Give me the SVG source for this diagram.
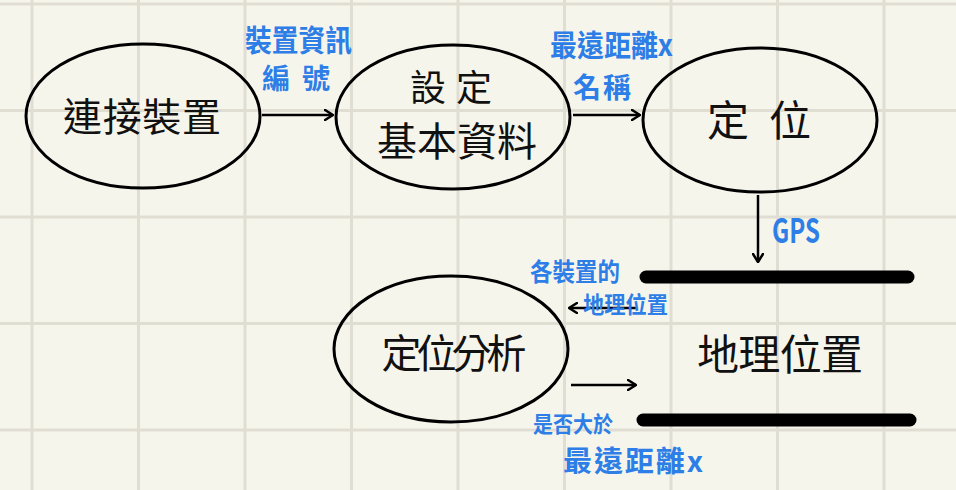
<svg xmlns="http://www.w3.org/2000/svg" width="956" height="490" viewBox="0 0 956 490">
<defs>
<style>
.grid{stroke:#e0ddd3;stroke-width:3}
.node{fill:none;stroke:#000;stroke-width:3}
.lbl{font-family:"Noto Sans CJK TC","Noto Sans CJK SC",sans-serif;fill:#111;text-anchor:middle}
.blue{font-family:"Noto Sans CJK TC","Noto Sans CJK SC",sans-serif;fill:#2d7ee6;font-weight:bold}
.conn{stroke:#000;stroke-width:2.5;fill:none;marker-end:url(#ah)}
.bar{stroke:#000;stroke-width:13;stroke-linecap:round}
</style>
<marker id="ah" viewBox="0 0 10 12" refX="9" refY="6" markerWidth="10" markerHeight="12" markerUnits="userSpaceOnUse" orient="auto">
<path d="M1,1 L9,6 L1,11" fill="none" stroke="#000" stroke-width="2.5" stroke-linecap="round" stroke-linejoin="round"/>
</marker>
</defs>
<rect width="956" height="490" fill="#f6f5ec"/>
<g id="grid">
<line class="grid" x1="32" y1="0" x2="32" y2="490"/>
<line class="grid" x1="138.5" y1="0" x2="138.5" y2="490"/>
<line class="grid" x1="245" y1="0" x2="245" y2="490"/>
<line class="grid" x1="351.5" y1="0" x2="351.5" y2="490"/>
<line class="grid" x1="458" y1="0" x2="458" y2="490"/>
<line class="grid" x1="564.5" y1="0" x2="564.5" y2="490"/>
<line class="grid" x1="671" y1="0" x2="671" y2="490"/>
<line class="grid" x1="777.5" y1="0" x2="777.5" y2="490"/>
<line class="grid" x1="884" y1="0" x2="884" y2="490"/>
<line class="grid" x1="0" y1="4" x2="956" y2="4"/>
<line class="grid" x1="0" y1="110.5" x2="956" y2="110.5"/>
<line class="grid" x1="0" y1="217" x2="956" y2="217"/>
<line class="grid" x1="0" y1="323.5" x2="956" y2="323.5"/>
<line class="grid" x1="0" y1="430" x2="956" y2="430"/>
</g>
<g id="connectors">
<line class="conn" x1="262" y1="115" x2="333" y2="115"/>
<line class="conn" x1="573" y1="115" x2="640" y2="115"/>
<line class="conn" x1="758" y1="195" x2="758" y2="262"/>
<line class="conn" x1="637" y1="308" x2="569" y2="308"/>
<line class="conn" x1="571" y1="385" x2="636" y2="385"/>
</g>
<g id="n1">
<ellipse class="node" cx="143" cy="116" rx="117" ry="72"/>
<text class="lbl" x="142" y="131" font-size="39" textLength="158">連接裝置</text>
</g>
<g id="n2">
<ellipse class="node" cx="453" cy="117" rx="117" ry="72"/>
<text class="lbl" x="451" y="101" font-size="36" textLength="82">設 定</text>
<text class="lbl" x="457" y="156" font-size="40" textLength="160">基本資料</text>
</g>
<g id="n3">
<ellipse class="node" cx="760" cy="120" rx="117" ry="72"/>
<text class="lbl" x="759" y="136" font-size="42" textLength="104">定 位</text>
</g>
<g id="n4">
<ellipse class="node" cx="451" cy="349" rx="117" ry="73"/>
<text class="lbl" x="454" y="368" font-size="40" textLength="145">定位分析</text>
</g>
<g id="n5">
<line class="bar" x1="646" y1="277" x2="908" y2="277"/>
<line class="bar" x1="643" y1="420" x2="910" y2="420"/>
<text class="lbl" x="780" y="370" font-size="42" textLength="166">地理位置</text>
</g>
<g id="labels">
<text class="blue" x="245" y="51" font-size="30" textLength="107" lengthAdjust="spacingAndGlyphs">裝置資訊</text>
<text class="blue" x="262" y="89" font-size="28" textLength="68">編號</text>
<text class="blue" x="550" y="56" font-size="30" textLength="123" lengthAdjust="spacingAndGlyphs">最遠距離x</text>
<text class="blue" x="573" y="98" font-size="28" textLength="58">名稱</text>
<text class="blue" x="772" y="243" font-size="34" font-weight="normal" textLength="48" lengthAdjust="spacingAndGlyphs">GPS</text>
<text class="blue" x="530" y="281" font-size="25" textLength="90" lengthAdjust="spacingAndGlyphs">各裝置的</text>
<text class="blue" x="583" y="313" font-size="23" textLength="85" lengthAdjust="spacingAndGlyphs">地理位置</text>
<text class="blue" x="533" y="432" font-size="22" textLength="80" lengthAdjust="spacingAndGlyphs">是否大於</text>
<text class="blue" x="563" y="472" font-size="29" textLength="140">最遠距離x</text>
</g>
</svg>
